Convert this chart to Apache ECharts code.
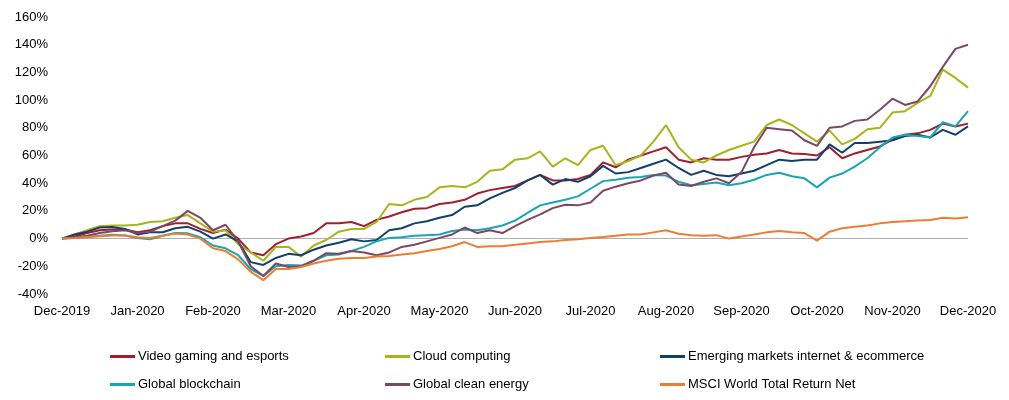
<!DOCTYPE html>
<html>
<head>
<meta charset="utf-8">
<script src="https://cdn.jsdelivr.net/npm/echarts@6/dist/echarts.min.js"></script>
<style>
  html, body { margin: 0; padding: 0; background: #fff; }
  #chart { width: 1009px; height: 400px; }
</style>
</head>
<body>
<div id="chart"></div>
<script>
// Month tick labels (6 samples per month)
const monthLabels = ['Dec-2019','Jan-2020','Feb-2020','Mar-2020','Apr-2020','May-2020','Jun-2020','Jul-2020','Aug-2020','Sep-2020','Oct-2020','Nov-2020','Dec-2020'];
const pointsPerMonth = 6;

const seriesNames = ['Video gaming and esports','Cloud computing','Emerging markets internet & ecommerce','Global blockchain','Global clean energy','MSCI World Total Return Net'];

const videoGaming = [0,1.7,4,6,6.5,6.5,4.6,6,9,11,11,7,
  4,6.5,0,-10,-12,-4,0,1.5,4,11,11,12,
  9,13.5,16,19,21.5,22,25,26,28,32.5,35,36.5,
  38,42,46,42,42,43,46,55,51.5,57,60,63,
  66,57,55,58,57,57,59,60.5,61.5,64,61.5,61,
  60,66,58,61.5,64,66.5,71.5,75,76,78.5,83,81,
  83];
const cloudComputing = [0,3,6,9,9.4,9.4,10,12,12.5,15,17,11,
  5,6,-4,-10,-16,-6,-6,-13,-5,-1,5,7,
  7,12,25,24,28,30,37,38,37,41,49,50,
  57,58,63,52,58,53,64,67,53,56,60,70,
  82,66,57,55,60,64,67,70,82,86,82,76,
  70,78,68,72,79,80,91,92,98,103,122,116,
  109];
const emInternet = [0,3,5,8,8.4,7,3,4.5,4.6,7.5,8.5,5,
  0,3,-2,-17,-19,-14,-11,-12,-8,-5,-3,-0.5,
  -2,-1,6,7.5,11,12.5,15,17,23,24,29,33,
  36.5,42,46,39,43,41,45,52.5,47,48,51,54,
  57,51,46,49,46,45,47,49,53,57,56,57,
  57,68,62,69,69,70,71,74,75,73,78.5,75,
  81];
const blockchain = [0,0.5,1.2,2,2.8,2.2,0.5,-0.5,2,4,3.8,1,
  -5,-7,-12,-22,-27,-20,-19,-19.5,-16,-12,-11.5,-9,
  -6,-2,0.5,1,2,2.5,3,5.5,6.5,6,7.5,9.5,
  13,18.5,24,26,28,30.5,36,41.5,42.5,44,44.5,46,
  45.5,41,38.5,39.5,40.5,38.5,40,42.5,46,47.5,45,43.5,
  37,44,47,52,58,66,73,75,74,73,84,81,
  92];
const cleanEnergy = [0,1,2,4,5.3,6,4,5,9,13,20,15,
  6,10,-2,-20,-27,-18,-20.5,-20,-16,-10.5,-11,-9,
  -10,-12,-10,-6,-4.5,-2,0.5,3,8,4,6,4,
  9,13.5,17.5,22,24.5,24,26,34.5,37.5,40,42,45.5,
  47.5,39,38,41,43.5,40,48,66,80,79,78,71,
  67,80,81,85,86,93,101,96.5,99,110,124,137,
  140];
const msciWorld = [0,0.5,1.2,1.7,2.2,2.2,1,0.5,2,3.6,3,0,
  -7,-9,-15,-24,-30,-22,-22,-20.5,-18,-16,-14.5,-14,
  -14,-13,-12.5,-11.5,-10.5,-9,-7.5,-5.5,-2.5,-6,-5.5,-5.5,
  -4.5,-3.5,-2.5,-2,-1,-0.5,0.5,1.2,2,3,3,4.5,
  6,3.5,2.5,2,2.5,0,1.5,3,4.5,5.5,4.5,4,
  -1.5,5,7.5,8.5,9.5,11,12,12.5,13,13.5,15,14.5,
  15.5];

const seriesData = [videoGaming, cloudComputing, emInternet, blockchain, cleanEnergy, msciWorld];
const colors = ['#9E1F2D','#A7B51A','#123F6B','#1BA4B4','#7B4763','#ED7D31'];

const categories = videoGaming.map((_, i) => (i % pointsPerMonth === 0 ? monthLabels[i / pointsPerMonth] : ''));

const FONT = 'Liberation Sans, Arial, sans-serif';

const legendPos = [
  {left: 105, top: 345}, {left: 380, top: 345}, {left: 655, top: 345},
  {left: 105, top: 373}, {left: 380, top: 373}, {left: 655, top: 373}
];

const chart = echarts.init(document.getElementById('chart'), null, {renderer: 'canvas'});
chart.setOption({
  animation: false,
  backgroundColor: '#fff',
  color: colors,
  grid: {left: 62, right: 41, top: 17, bottom: 106, containLabel: false},
  legend: seriesNames.map((n, i) => ({
    data: [n], left: legendPos[i].left, top: legendPos[i].top,
    icon: 'rect', itemWidth: 25, itemHeight: 3, itemGap: 0,
    selectedMode: false,
    textStyle: {fontFamily: FONT, fontSize: 13, color: '#000', padding: [0,0,0,-2]}
  })),
  xAxis: {
    type: 'category', data: categories, boundaryGap: false,
    axisLine: {show: false, onZero: false}, axisTick: {show: false},
    axisLabel: {interval: 0, margin: 11, fontFamily: FONT, fontSize: 13, color: '#000'},
    splitLine: {show: false}
  },
  yAxis: {
    type: 'value', min: -40, max: 160, interval: 20,
    axisLine: {show: false}, axisTick: {show: false}, splitLine: {show: false},
    axisLabel: {formatter: '{value}%', margin: 14, fontFamily: FONT, fontSize: 13, color: '#000'}
  },
  series: seriesNames.map((n, i) => {
    const s = {
      name: n, type: 'line', data: seriesData[i], symbol: 'none', smooth: false,
      lineStyle: {width: 2, color: colors[i]}, itemStyle: {color: colors[i]}, z: 3
    };
    if (i === 0) {
      s.markLine = {
        silent: true, symbol: 'none', label: {show: false}, animation: false,
        lineStyle: {color: '#AFAFAF', width: 1, type: 'solid'},
        data: [{yAxis: 0}], z: 1
      };
    }
    return s;
  })
});
</script>
</body>
</html>
